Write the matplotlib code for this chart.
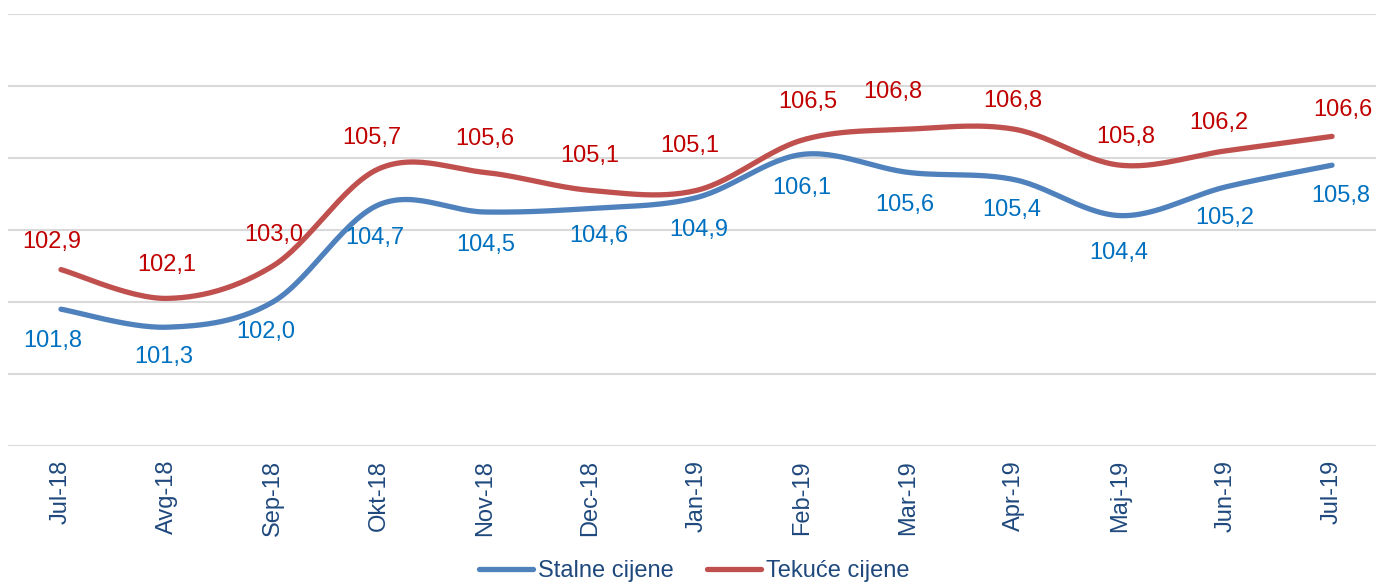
import numpy as np
import matplotlib
matplotlib.use("Agg")
import matplotlib.pyplot as plt
from matplotlib.lines import Line2D

plt.rcParams['font.family'] = ['Liberation Sans', 'DejaVu Sans']

months = ['Jul-18', 'Avg-18', 'Sep-18', 'Okt-18', 'Nov-18', 'Dec-18', 'Jan-19',
          'Feb-19', 'Mar-19', 'Apr-19', 'Maj-19', 'Jun-19', 'Jul-19']
stalne = [101.8, 101.3, 102.0, 104.7, 104.5, 104.6, 104.9,
          106.1, 105.6, 105.4, 104.4, 105.2, 105.8]
tekuce = [102.9, 102.1, 103.0, 105.7, 105.6, 105.1, 105.1,
          106.5, 106.8, 106.8, 105.8, 106.2, 106.6]
series_names = ['Stalne cijene', 'Tekuće cijene']

# data label offsets (pixels) - labels were hand placed in the original
stalne_off = [(-8, 32), (-3, 30), (-7, 30), (-4, 33), (1, 33), (8, 28), (2, 32),
              (-1, 34), (-4, 33), (-3, 30), (-1, 37), (-1, 31), (9, 31)]
tekuce_off = [(-9, -28), (0, -33), (1, -31), (-7, -31), (0, -33), (-1, -34), (-7, -44),
              (5, -38), (-16, -37), (-1, -28), (6, -28), (-7, -28), (11, -26)]

BLUE = '#4F81BD'
RED = '#C0504D'
BLUE_TXT = '#0070C0'
RED_TXT = '#C00000'
AXIS_TXT = '#1F497D'


def smooth(x, y, n=30):
    # excel-like smoothed line: catmull-rom segments as cubic beziers
    x = np.asarray(x, float)
    y = np.asarray(y, float)
    p = np.column_stack([x, y])
    p = np.vstack([p[0], p, p[-1]])
    out = []
    t = np.linspace(0, 1, n)[:, None]
    for i in range(1, len(p) - 2):
        p0, p1, p2, p3 = p[i - 1], p[i], p[i + 1], p[i + 2]
        c1 = p1 + (p2 - p0) / 6.0
        c2 = p2 - (p3 - p1) / 6.0
        seg = ((1 - t) ** 3) * p1 + 3 * ((1 - t) ** 2) * t * c1 \
            + 3 * (1 - t) * t ** 2 * c2 + t ** 3 * p2
        out.append(seg if i == 1 else seg[1:])
    out = np.vstack(out)
    return out[:, 0], out[:, 1]


fig = plt.figure(figsize=(13.76, 5.82), dpi=100)
ax = fig.add_axes([8 / 1376, 136 / 582, 1377 / 1376, 432 / 582])

x = np.arange(len(months))
for vals, col in [(stalne, BLUE), (tekuce, RED)]:
    sx, sy = smooth(x, vals)
    ax.plot(sx, sy, color=col, lw=3.8, solid_capstyle='round', zorder=3)

px = 72 / 100
for vals, offs, col in [(stalne, stalne_off, BLUE_TXT), (tekuce, tekuce_off, RED_TXT)]:
    for xi, v, (dx, dy) in zip(x, vals, offs):
        ax.annotate(f'{v:.1f}'.replace('.', ','), (xi, v), xytext=(dx * px, -dy * px),
                    textcoords='offset points', ha='center', va='center',
                    fontsize=17, color=col, zorder=4)

ax.set_xlim(-0.5, len(months) - 0.5)
ax.set_ylim(98, 110)
ax.set_yticks(np.arange(98, 111, 2))
ax.yaxis.grid(True, color='#D9D9D9', lw=1.5)
ax.set_axisbelow(True)
ax.tick_params(axis='y', left=False, labelleft=False)
ax.set_xticks(x)
ax.set_xticklabels(months, rotation=90, fontsize=17, color=AXIS_TXT)
ax.tick_params(axis='x', length=0, pad=10)
for s in ax.spines.values():
    s.set_visible(False)

handles = [Line2D([], [], color=BLUE, lw=3.8, solid_capstyle='round'),
           Line2D([], [], color=RED, lw=3.8, solid_capstyle='round')]
leg = fig.legend(handles, series_names, loc='center', bbox_to_anchor=(694 / 1376, 11 / 582),
                 ncol=2, frameon=False, fontsize=17, handlelength=2.3,
                 handletextpad=0.2, columnspacing=1.4, borderpad=0)
for t in leg.get_texts():
    t.set_color(AXIS_TXT)

fig.savefig('out.png', dpi=100)
